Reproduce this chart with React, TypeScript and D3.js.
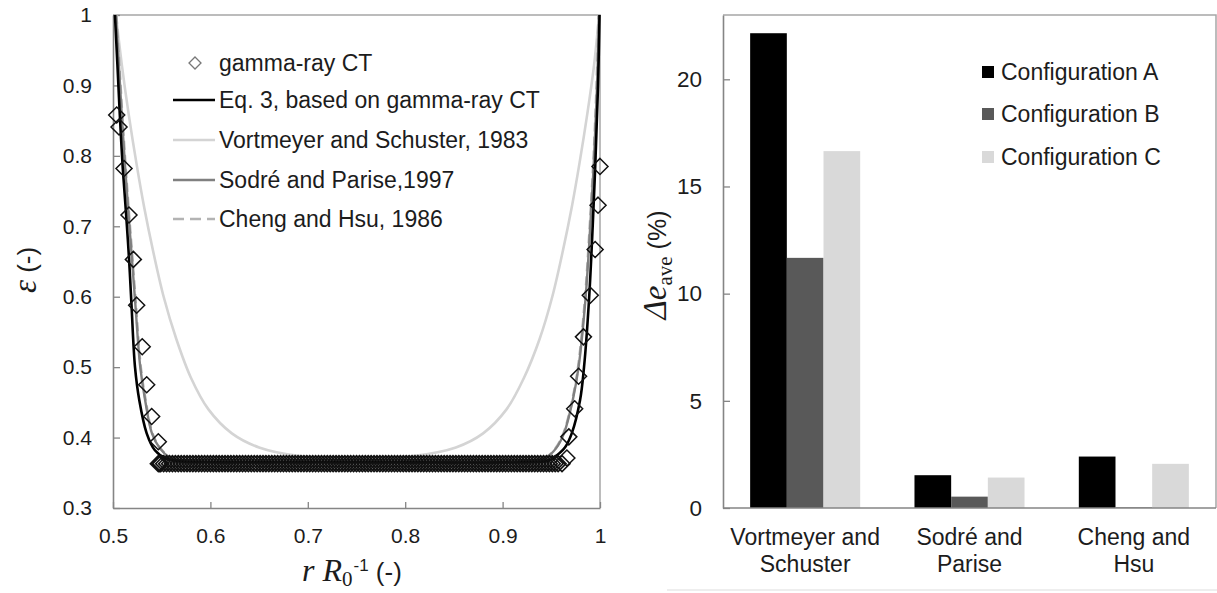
import React, { useEffect, useRef } from 'react';
import * as d3 from 'd3';

// ---- left panel: radial porosity profile ----
const xTicksLeft = [0.5, 0.6, 0.7, 0.8, 0.9, 1];
const yTicksLeft = [0.3, 0.4, 0.5, 0.6, 0.7, 0.8, 0.9, 1];

// gamma-ray CT points near the walls
const ctWallLeft: [number, number][] = [
  [0.5038, 0.858], [0.5062, 0.841], [0.5113, 0.782], [0.5164, 0.716], [0.5209, 0.653],
  [0.5243, 0.588], [0.530, 0.529], [0.5346, 0.475], [0.5397, 0.430], [0.5465, 0.394],
  [0.5465, 0.363], [0.548, 0.363],
];
const ctWallRight: [number, number][] = [
  [1.0, 0.785], [0.998, 0.730], [0.995, 0.667], [0.990, 0.602], [0.983, 0.543],
  [0.978, 0.487], [0.974, 0.441], [0.968, 0.401], [0.966, 0.371], [0.961, 0.363],
];
// gamma-ray CT points in the bulk (constant porosity)
const ctBulkX = [
  0.549, 0.552, 0.555, 0.558, 0.561, 0.564, 0.567, 0.570, 0.573, 0.576,
  0.579, 0.582, 0.585, 0.588, 0.591, 0.594, 0.597, 0.600, 0.603, 0.606,
  0.609, 0.612, 0.615, 0.618, 0.621, 0.624, 0.627, 0.630, 0.633, 0.636,
  0.639, 0.642, 0.645, 0.648, 0.651, 0.654, 0.657, 0.660, 0.663, 0.666,
  0.669, 0.672, 0.675, 0.678, 0.681, 0.684, 0.687, 0.690, 0.693, 0.696,
  0.699, 0.702, 0.705, 0.708, 0.711, 0.714, 0.717, 0.720, 0.723, 0.726,
  0.729, 0.732, 0.735, 0.738, 0.741, 0.744, 0.747, 0.750, 0.753, 0.756,
  0.759, 0.762, 0.765, 0.768, 0.771, 0.774, 0.777, 0.780, 0.783, 0.786,
  0.789, 0.792, 0.795, 0.798, 0.801, 0.804, 0.807, 0.810, 0.813, 0.816,
  0.819, 0.822, 0.825, 0.828, 0.831, 0.834, 0.837, 0.840, 0.843, 0.846,
  0.849, 0.852, 0.855, 0.858, 0.861, 0.864, 0.867, 0.870, 0.873, 0.876,
  0.879, 0.882, 0.885, 0.888, 0.891, 0.894, 0.897, 0.900, 0.903, 0.906,
  0.909, 0.912, 0.915, 0.918, 0.921, 0.924, 0.927, 0.930, 0.933, 0.936,
  0.939, 0.942, 0.945, 0.948, 0.951, 0.954, 0.957,
];
const ctBulkPorosity = 0.363;

const eq3: [number, number][] = [
  [0.502, 1.0], [0.5045, 0.93], [0.507, 0.858], [0.510, 0.783], [0.5135, 0.716],
  [0.5165, 0.653], [0.519, 0.588], [0.5226, 0.50], [0.527, 0.453], [0.5346, 0.406],
  [0.543, 0.382], [0.555, 0.370], [0.57, 0.366], [0.60, 0.365], [0.75, 0.365],
  [0.92, 0.365], [0.947, 0.367], [0.952, 0.371], [0.964, 0.386], [0.971, 0.406],
  [0.9795, 0.453], [0.9836, 0.50], [0.9887, 0.595], [0.9925, 0.70], [0.9955, 0.80],
  [0.998, 0.90], [0.9995, 1.0],
];
const vortmeyer: [number, number][] = [
  [0.503, 1.0], [0.509, 0.93], [0.516, 0.86], [0.524, 0.79], [0.532, 0.727],
  [0.541, 0.666], [0.552, 0.600], [0.565, 0.540], [0.580, 0.485], [0.598, 0.440],
  [0.622, 0.406], [0.650, 0.386], [0.690, 0.374], [0.75, 0.369], [0.81, 0.374],
  [0.852, 0.386], [0.880, 0.406], [0.904, 0.440], [0.922, 0.485], [0.938, 0.540],
  [0.951, 0.600], [0.962, 0.666], [0.971, 0.727], [0.979, 0.79], [0.987, 0.86],
  [0.994, 0.93], [0.999, 1.0],
];
const sodre: [number, number][] = [
  [0.503, 1.0], [0.506, 0.93], [0.509, 0.858], [0.5125, 0.783], [0.516, 0.716],
  [0.5195, 0.653], [0.523, 0.588], [0.528, 0.50], [0.533, 0.453], [0.540, 0.406],
  [0.548, 0.385], [0.558, 0.372], [0.57, 0.367], [0.60, 0.365], [0.75, 0.365],
  [0.90, 0.365], [0.93, 0.367], [0.945, 0.372], [0.955, 0.385], [0.963, 0.406],
  [0.972, 0.453], [0.978, 0.50], [0.985, 0.595], [0.990, 0.70], [0.994, 0.80],
  [0.997, 0.90], [0.999, 1.0],
];
const cheng: [number, number][] = [
  [0.5035, 1.0], [0.5065, 0.93], [0.5095, 0.858], [0.513, 0.783], [0.5165, 0.716],
  [0.520, 0.653], [0.5235, 0.588], [0.5285, 0.50], [0.5335, 0.453], [0.5405, 0.406],
  [0.5485, 0.385], [0.5585, 0.372], [0.57, 0.367], [0.60, 0.365], [0.75, 0.365],
  [0.90, 0.365], [0.93, 0.367], [0.9445, 0.372], [0.9545, 0.385], [0.9625, 0.406],
  [0.9715, 0.453], [0.9775, 0.50], [0.9845, 0.595], [0.9895, 0.70], [0.9935, 0.80],
  [0.9965, 0.90], [0.9985, 1.0],
];
const legendLeft = [
  'gamma-ray CT',
  'Eq. 3, based on gamma-ray CT',
  'Vortmeyer and Schuster, 1983',
  'Sodré and Parise,1997',
  'Cheng and Hsu, 1986',
];

// ---- right panel: average deviation ----
const methods = [['Vortmeyer and', 'Schuster'], ['Sodré and', 'Parise'], ['Cheng and', 'Hsu']];
const configs = ['Configuration A', 'Configuration B', 'Configuration C'];
const configA = [22.15, 1.53, 2.40];
const configB = [11.67, 0.53, 0.03];
const configC = [16.65, 1.42, 2.06];
const yTicksRight = [0, 5, 10, 15, 20];

const SANS = '"Liberation Sans", Arial, sans-serif';
const SERIF = '"Liberation Serif", "Times New Roman", serif';
const AXIS = '#858585';
const FRAME = '#a6a6a6';
const INK = '#1c1c1c';

function drawLeft(svg: d3.Selection<SVGSVGElement, unknown, null, undefined>) {
  const left = 113, right = 600, top = 15, bottom = 508;
  const x = d3.scaleLinear().domain([0.5, 1]).range([left, right]);
  const y = d3.scaleLinear().domain([0.3, 1]).range([bottom, top]);
  const g = svg.append('g');

  // frame
  g.append('path')
    .attr('d', `M${left},${top}H${right}V${bottom}`)
    .attr('fill', 'none').attr('stroke', FRAME).attr('stroke-width', 1.5);

  const yAxis = g.append('g').attr('transform', `translate(${left},0)`)
    .call(d3.axisLeft(y).tickValues(yTicksLeft).tickSize(-7).tickSizeOuter(0).tickPadding(21).tickFormat(d => String(d)));
  const xAxis = g.append('g').attr('transform', `translate(0,${bottom})`)
    .call(d3.axisBottom(x).tickValues(xTicksLeft).tickSize(-6).tickSizeOuter(0).tickPadding(20).tickFormat(d => String(d)));
  [yAxis, xAxis].forEach(a => {
    a.select('.domain').attr('stroke', AXIS).attr('stroke-width', 1.6);
    a.selectAll('.tick line').attr('stroke', AXIS).attr('stroke-width', 1.3);
    a.selectAll('.tick text').attr('fill', INK).style('font-family', SANS).style('font-size', '21px');
  });

  const line = d3.line<[number, number]>().x(d => x(d[0])).y(d => y(d[1])).curve(d3.curveCatmullRom.alpha(0.5));

  g.append('path').attr('d', line(vortmeyer)).attr('fill', 'none').attr('stroke', '#d4d4d4').attr('stroke-width', 2.6);
  g.append('path').attr('d', line(cheng)).attr('fill', 'none').attr('stroke', '#b3b3b3').attr('stroke-width', 2.6).attr('stroke-dasharray', '9,5');
  g.append('path').attr('d', line(sodre)).attr('fill', 'none').attr('stroke', '#808080').attr('stroke-width', 2.4);
  g.append('path').attr('d', line(eq3)).attr('fill', 'none').attr('stroke', '#000').attr('stroke-width', 2.6);

  const diamond = 'M0,-8L8,0L0,8L-8,0Z';
  const ctPoints: [number, number][] = [
    ...ctWallLeft,
    ...ctBulkX.map(v => [v, ctBulkPorosity] as [number, number]),
    ...ctWallRight,
  ];
  g.append('g').selectAll('path').data(ctPoints).enter().append('path')
    .attr('d', diamond)
    .attr('transform', d => `translate(${x(d[0])},${y(d[1])})`)
    .attr('fill', 'none').attr('stroke', '#111').attr('stroke-width', 1.5);

  // legend
  const lg = g.append('g');
  const rows = [63, 100, 140, 180, 219];
  const lx0 = 173, lx1 = 215, tx = 219;
  lg.append('path').attr('d', 'M0,-6L6,0L0,6L-6,0Z').attr('transform', `translate(195,${rows[0]})`)
    .attr('fill', 'none').attr('stroke', '#777').attr('stroke-width', 1.3);
  const styles = [
    { stroke: '#000', dash: null, w: 2.6 },
    { stroke: '#d4d4d4', dash: null, w: 2.6 },
    { stroke: '#808080', dash: null, w: 2.4 },
    { stroke: '#b3b3b3', dash: '11,6', w: 2.6 },
  ];
  styles.forEach((s, i) => {
    lg.append('line').attr('x1', lx0).attr('x2', lx1).attr('y1', rows[i + 1]).attr('y2', rows[i + 1])
      .attr('stroke', s.stroke).attr('stroke-width', s.w).attr('stroke-dasharray', s.dash);
  });
  lg.selectAll('text').data(legendLeft).enter().append('text')
    .attr('x', tx).attr('y', (d, i) => rows[i]).attr('dy', '0.35em')
    .attr('fill', INK).style('font-family', SANS).style('font-size', '23px')
    .text(d => d);

  // axis titles
  const yt = g.append('text').attr('transform', 'translate(36,270) rotate(-90)')
    .attr('text-anchor', 'middle').attr('fill', INK);
  yt.append('tspan').style('font-family', SERIF).style('font-style', 'italic').style('font-size', '33px').text('ε');
  yt.append('tspan').style('font-family', SANS).style('font-size', '26px').text(' (-)');

  const xt = g.append('text').attr('x', 302).attr('y', 581).attr('fill', INK);
  xt.append('tspan').style('font-family', SERIF).style('font-style', 'italic').style('font-size', '32px').text('r R');
  xt.append('tspan').attr('dy', 5).style('font-family', SERIF).style('font-size', '21px').text('0');
  xt.append('tspan').attr('dy', -15).attr('dx', 1).style('font-family', SANS).style('font-size', '17px').text('-1');
  xt.append('tspan').attr('dy', 10).style('font-family', SANS).style('font-size', '26px').text(' (-)');
}

function drawRight(svg: d3.Selection<SVGSVGElement, unknown, null, undefined>) {
  const left = 723, right = 1216, top = 15, bottom = 508;
  const y = d3.scaleLinear().domain([0, 23]).range([bottom, top]);
  const x0 = d3.scaleBand<number>().domain(d3.range(methods.length)).range([left, right]);
  const x1 = d3.scaleBand<string>().domain(configs).range([0, x0.bandwidth()]).paddingInner(0).paddingOuter(0.74);
  const colors = d3.scaleOrdinal<string, string>().domain(configs).range(['#000000', '#595959', '#d9d9d9']);
  const series = [configA, configB, configC];
  const g = svg.append('g');

  g.append('path')
    .attr('d', `M${left},${top}H${right}V${bottom}`)
    .attr('fill', 'none').attr('stroke', FRAME).attr('stroke-width', 1.5);

  const bars = g.append('g');
  methods.forEach((m, i) => {
    configs.forEach((c, j) => {
      const v = series[j][i];
      bars.append('rect')
        .attr('x', x0(i)! + x1(c)!).attr('width', x1.bandwidth())
        .attr('y', y(v)).attr('height', y(0) - y(v))
        .attr('fill', colors(c));
    });
  });

  const yAxis = g.append('g').attr('transform', `translate(${left},0)`)
    .call(d3.axisLeft(y).tickValues(yTicksRight).tickSize(-7).tickSizeOuter(0).tickPadding(21));
  yAxis.select('.domain').attr('stroke', AXIS).attr('stroke-width', 1.6);
  yAxis.selectAll('.tick line').attr('stroke', AXIS).attr('stroke-width', 1.3);
  yAxis.selectAll('.tick text').attr('fill', INK).style('font-family', SANS).style('font-size', '22.5px');

  g.append('line').attr('x1', left).attr('x2', right).attr('y1', bottom).attr('y2', bottom)
    .attr('stroke', AXIS).attr('stroke-width', 1.6);

  // category labels, two lines each
  methods.forEach((m, i) => {
    const cx = x0(i)! + x0.bandwidth() / 2;
    m.forEach((ln, k) => {
      g.append('text').attr('x', cx).attr('y', 545 + k * 26.5).attr('text-anchor', 'middle')
        .attr('fill', INK).style('font-family', SANS).style('font-size', '23px').text(ln);
    });
  });

  // legend
  const rows = [72, 114, 157];
  configs.forEach((c, i) => {
    g.append('rect').attr('x', 982).attr('y', rows[i] - 6).attr('width', 12).attr('height', 12).attr('fill', colors(c));
    g.append('text').attr('x', 1001).attr('y', rows[i]).attr('dy', '0.35em')
      .attr('fill', INK).style('font-family', SANS).style('font-size', '23px').text(c);
  });

  // y title
  const yt = g.append('text').attr('transform', 'translate(666,265) rotate(-90)')
    .attr('text-anchor', 'middle').attr('fill', INK);
  yt.append('tspan').style('font-family', SERIF).style('font-style', 'italic').style('font-size', '33px').text('Δe');
  yt.append('tspan').attr('dy', 6).style('font-family', SERIF).style('font-size', '21px').text('ave');
  yt.append('tspan').attr('dy', -6).style('font-family', SANS).style('font-size', '25px').text(' (%)');

  // faint box edge under the panel
  g.append('line').attr('x1', 667).attr('x2', 1217).attr('y1', 590).attr('y2', 590)
    .attr('stroke', '#dedede').attr('stroke-width', 1.2);
}

export default function App() {
  const ref = useRef<SVGSVGElement>(null);

  useEffect(() => {
    const svg = d3.select(ref.current!);
    svg.selectAll('*').remove();
    svg.append('rect').attr('width', 1217).attr('height', 593).attr('fill', '#fff');
    drawLeft(svg);
    drawRight(svg);
  }, []);

  return (
    <svg ref={ref} width={1217} height={593}
      style={{ position: 'absolute', left: 0, top: 0, background: '#fff' }} />
  );
}
